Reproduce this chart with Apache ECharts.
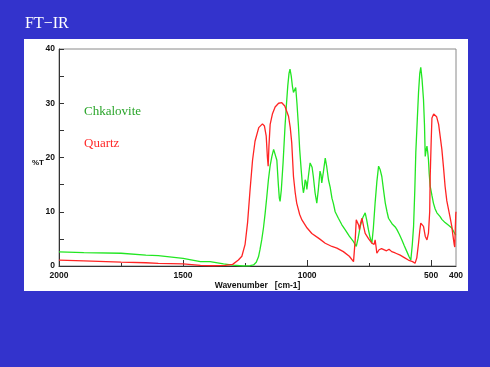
<!DOCTYPE html>
<html>
<head>
<meta charset="utf-8">
<script src="https://cdn.jsdelivr.net/npm/echarts@6/dist/echarts.min.js"></script>
<style>
html,body{margin:0;padding:0;background:#3333cc;}
#chart{width:490px;height:367px;}
</style>
</head>
<body>
<div id="chart"></div>
<script>
// Wavenumber (cm-1) and %T readings for each spectrum
var quartzWN = [2000,1900,1750,1650,1600,1500,1430,1380,1330,1300,1277,1263,1250,1240,1230,1220,1210,1195,1180,1172,1165,1160,1157,1154,1149,1140,1129,1115,1102,1090,1075,1068,1062,1055,1048,1042,1030,1021,1000,981,950,927,900,880,854,830,813,806,802,797,792,789,784,779,772,766,752,739,730,726,722,719,710,700,692,680,670,659,645,625,610,592,575,565,558,551,546,542,536,531,524,517,511,506,504,500,497,490,484,478,470,464,457,450,444,437,430,424,417,412,407,405,403,401,400];
var quartzT  = [1.1,0.95,0.7,0.6,0.5,0.4,0.1,0.05,0.1,0.3,1.1,1.8,4.0,8.0,14.0,19.5,23.0,25.5,26.2,25.8,24.0,20.0,18.4,22.0,26.1,28.0,29.3,30.0,30.1,29.5,27.6,25.5,22.7,16.5,13.5,11.6,9.5,8.5,7.0,6.0,5.0,4.2,3.6,3.3,2.65,1.8,0.8,5.0,8.5,8.8,7.5,6.7,8.0,8.8,7.2,6.0,5.0,4.2,4.0,4.8,3.5,2.35,3.0,3.2,3.0,2.8,3.1,2.65,2.4,2.0,1.6,1.1,0.8,0.5,1.5,4.2,6.5,7.9,7.8,7.3,5.5,4.8,6.05,10.0,16.5,23.0,27.3,28.0,28.3,27.5,26.1,24.0,21.5,18.0,14.7,12.0,10.4,9.0,7.3,5.5,3.9,3.5,6.7,9.5,10.0];

var chkWN = [2000,1900,1750,1650,1600,1500,1430,1391,1337,1300,1257,1230,1216,1205,1196,1190,1183,1176,1169,1162,1156,1149,1142,1135,1129,1122,1116,1112,1109,1104,1097,1089,1083,1078,1073,1069,1064,1059,1055,1050,1046,1041,1035,1030,1024,1019,1015,1011,1008,1004,1001,995,988,984,980,975,968,961,955,948,944,941,934,927,921,914,907,900,894,887,874,860,847,830,813,802,795,786,775,766,760,753,746,739,733,726,719,712,706,699,692,685,678,672,665,658,652,645,638,628,618,608,598,590,582,576,571,566,562,556,551,546,542,537,531,527,524,520,517,514,511,508,504,497,491,484,477,470,464,457,450,444,437,430,423,417,410,405,401];
var chkT  = [2.6,2.45,2.35,2.0,1.9,1.4,0.8,0.8,0.4,0.15,0.0,0.05,0.2,0.7,1.7,3.0,4.8,7.0,9.8,13.0,15.9,18.5,20.2,21.5,21.8,19.5,15.0,12.5,11.9,14.0,19.0,25.8,30.0,33.2,35.5,36.3,35.0,33.0,32.0,32.3,32.9,30.0,25.8,21.5,17.8,15.0,13.5,14.5,15.9,15.5,14.1,16.5,19.0,19.3,18.2,16.5,13.5,11.6,14.0,17.5,16.8,15.3,17.5,19.9,18.3,15.9,14.5,12.5,11.5,10.0,8.8,7.6,6.7,5.5,4.5,3.6,5.0,7.3,9.0,9.8,8.5,6.7,5.2,4.2,7.0,11.6,15.5,18.4,17.8,16.5,14.0,11.6,10.0,8.8,8.5,7.8,7.6,7.2,6.7,5.8,4.8,3.7,2.65,1.8,1.1,4.0,7.3,14.0,20.9,27.0,32.0,35.5,36.6,34.5,30.7,26.0,20.2,21.5,22.1,21.0,19.6,17.0,14.7,13.0,11.6,10.5,9.8,9.5,9.1,8.6,8.5,8.0,7.9,7.5,7.3,7.0,6.4,6.0,5.7];

var xLabelValues = [2000,1500,1000,500,400];
var xMajorTicks = [2000,1500,1000,500];
var xMinorTicks = [1750,1250,750];
var seriesNames = ['Chkalovite','Quartz'];

function pairs(xs, ys){ return xs.map(function(x,i){ return [x, ys[i]]; }); }

var chart = echarts.init(document.getElementById('chart'), null, {renderer:'canvas'});
var axisFont = {fontFamily:'Liberation Sans, Arial, sans-serif', fontSize:8.5, fontWeight:'bold', color:'#111'};
chart.setOption({
  animation:false,
  backgroundColor:'#3333cc',
  title:{text:'FT\u2212IR', left:25, top:16, padding:0,
    textStyle:{color:'#ffffff', fontFamily:'Liberation Serif, Times New Roman, serif', fontSize:16, fontWeight:'normal'}},
  graphic:[
    {type:'rect', z:-10, shape:{x:24, y:39, width:444, height:252}, style:{fill:'#ffffff'}},
    {type:'text', z:5, x:38, y:163, style:{text:'%T', fill:'#111', font:'bold 8px Liberation Sans, Arial, sans-serif', textAlign:'center', textVerticalAlign:'middle'}}
  ],
  legend:{orient:'vertical', left:74, top:100, icon:'none', itemWidth:0, itemHeight:14, itemGap:18,
    selectedMode:false,
    textStyle:{fontFamily:'Liberation Serif, Times New Roman, serif', fontSize:13},
    data:[{name:seriesNames[0], textStyle:{color:'#2aa52a'}},{name:seriesNames[1], textStyle:{color:'#ff2a2a'}}]},
  grid:{left:59, top:49, width:397, height:217, show:true, borderColor:'#8a8a8a', borderWidth:1, backgroundColor:'transparent'},
  xAxis:[{
    type:'value', min:400, max:2000, inverse:true, position:'bottom',
    name:'Wavenumber   [cm-1]', nameLocation:'middle', nameGap:15, nameMoveOverlap:false,
    nameTextStyle:{fontFamily:'Liberation Sans, Arial, sans-serif', fontSize:8.5, fontWeight:'bold', color:'#111'},
    axisLine:{show:true, onZero:false, lineStyle:{color:'#333', width:1}},
    axisTick:{show:true, inside:true, length:6, customValues:xMajorTicks, lineStyle:{color:'#333'}},
    axisLabel:Object.assign({customValues:xLabelValues, margin:5, formatter:function(v){return String(v);}}, axisFont),
    splitLine:{show:false}
  },{
    type:'value', min:400, max:2000, inverse:true, position:'bottom',
    axisLine:{show:false}, axisLabel:{show:false}, splitLine:{show:false},
    axisTick:{show:true, inside:true, length:3, customValues:xMinorTicks, lineStyle:{color:'#333'}}
  }],
  yAxis:{
    type:'value', min:0, max:40, interval:10,
    axisLine:{show:true, onZero:false, lineStyle:{color:'#333', width:1}},
    axisTick:{show:true, inside:true, length:5, lineStyle:{color:'#333'}},
    minorTick:{show:true, splitNumber:2, length:5, lineStyle:{color:'#333'}},
    axisLabel:Object.assign({margin:4, formatter:function(v){return String(v);}}, axisFont),
    splitLine:{show:false}
  },
  series:[
    {name:seriesNames[0], type:'line', xAxisIndex:0, showSymbol:false, data:pairs(chkWN, chkT),
      lineStyle:{color:'#22e622', width:1.3}, itemStyle:{color:'#22e622'}},
    {name:seriesNames[1], type:'line', xAxisIndex:0, showSymbol:false, data:pairs(quartzWN, quartzT),
      lineStyle:{color:'#ff2424', width:1.3}, itemStyle:{color:'#ff2424'}}
  ]
});
</script>
</body>
</html>
